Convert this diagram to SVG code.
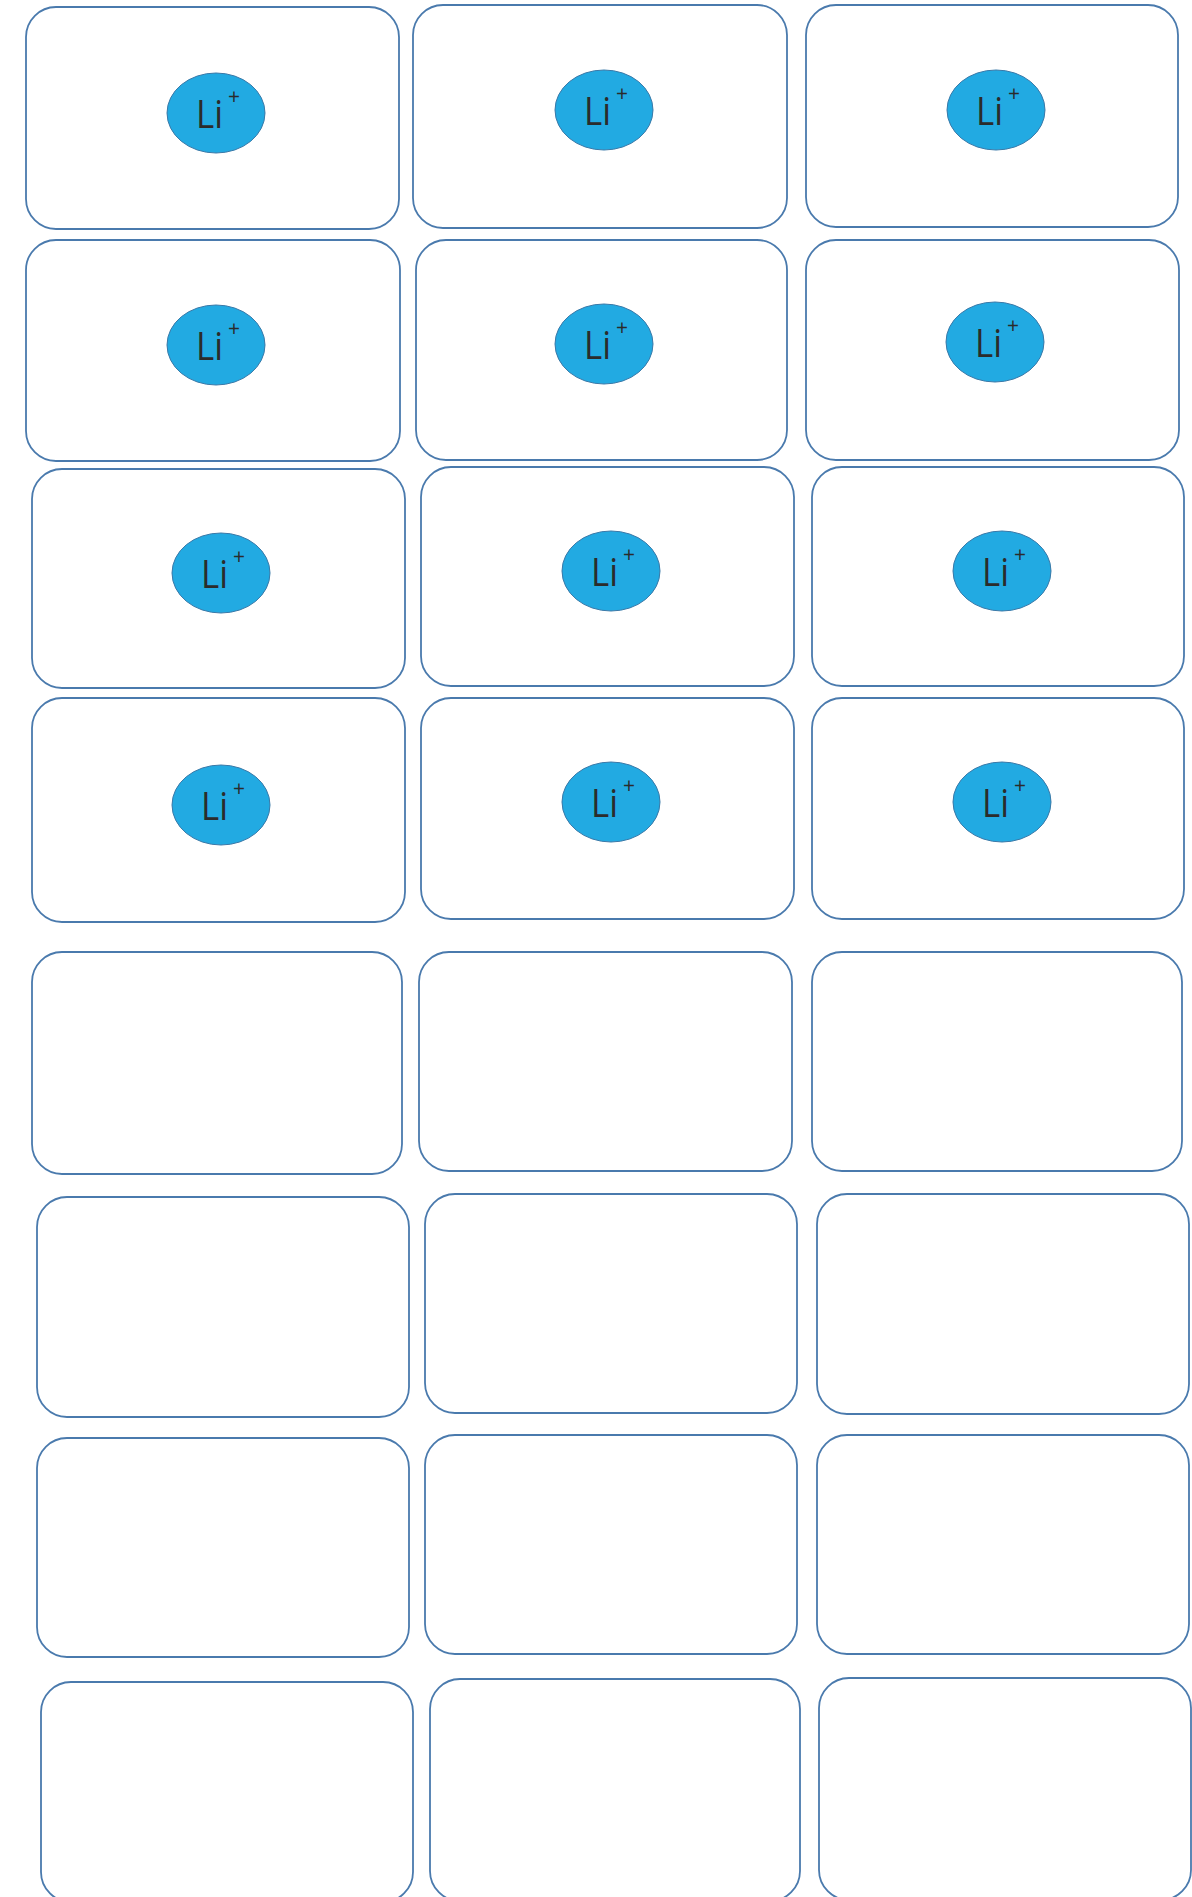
<svg xmlns="http://www.w3.org/2000/svg" width="1192" height="1897" viewBox="0 0 1192 1897">
<style>
.box{fill:#ffffff;stroke:#4a7aad;stroke-width:1.8}
.ion{fill:#22aae2;stroke:#3a79a8;stroke-width:1}
.li{font-family:"Open Sans","Liberation Sans",sans-serif;font-size:38px;fill:#2b2b2b}
.pl{font-family:"Open Sans","Liberation Sans",sans-serif;font-size:21px;fill:#2b2b2b}
</style>
<defs>
<g id="liion">
<ellipse class="ion" cx="0" cy="0" rx="49" ry="40"/>
<text class="li" x="-20" y="15" textLength="27" lengthAdjust="spacingAndGlyphs">Li</text>
<text class="pl" x="18" y="-9" text-anchor="middle">+</text>
</g>
</defs>
<rect width="1192" height="1897" fill="#ffffff"/>
<g id="r1c1"><rect class="box" x="26" y="7" width="373" height="222" rx="30"/><use href="#liion" x="216" y="113"/></g>
<g id="r1c2"><rect class="box" x="413" y="5" width="374" height="223" rx="30"/><use href="#liion" x="604" y="110"/></g>
<g id="r1c3"><rect class="box" x="806" y="5" width="372" height="222" rx="30"/><use href="#liion" x="996" y="110"/></g>
<g id="r2c1"><rect class="box" x="26" y="240" width="374" height="221" rx="30"/><use href="#liion" x="216" y="345"/></g>
<g id="r2c2"><rect class="box" x="416" y="240" width="371" height="220" rx="30"/><use href="#liion" x="604" y="344"/></g>
<g id="r2c3"><rect class="box" x="806" y="240" width="373" height="220" rx="30"/><use href="#liion" x="995" y="342"/></g>
<g id="r3c1"><rect class="box" x="32" y="469" width="373" height="219" rx="30"/><use href="#liion" x="221" y="573"/></g>
<g id="r3c2"><rect class="box" x="421" y="467" width="373" height="219" rx="30"/><use href="#liion" x="611" y="571"/></g>
<g id="r3c3"><rect class="box" x="812" y="467" width="372" height="219" rx="30"/><use href="#liion" x="1002" y="571"/></g>
<g id="r4c1"><rect class="box" x="32" y="698" width="373" height="224" rx="30"/><use href="#liion" x="221" y="805"/></g>
<g id="r4c2"><rect class="box" x="421" y="698" width="373" height="221" rx="30"/><use href="#liion" x="611" y="802"/></g>
<g id="r4c3"><rect class="box" x="812" y="698" width="372" height="221" rx="30"/><use href="#liion" x="1002" y="802"/></g>
<g id="r5c1"><rect class="box" x="32" y="952" width="370" height="222" rx="30"/></g>
<g id="r5c2"><rect class="box" x="419" y="952" width="373" height="219" rx="30"/></g>
<g id="r5c3"><rect class="box" x="812" y="952" width="370" height="219" rx="30"/></g>
<g id="r6c1"><rect class="box" x="37" y="1197" width="372" height="220" rx="30"/></g>
<g id="r6c2"><rect class="box" x="425" y="1194" width="372" height="219" rx="30"/></g>
<g id="r6c3"><rect class="box" x="817" y="1194" width="372" height="220" rx="30"/></g>
<g id="r7c1"><rect class="box" x="37" y="1438" width="372" height="219" rx="30"/></g>
<g id="r7c2"><rect class="box" x="425" y="1435" width="372" height="219" rx="30"/></g>
<g id="r7c3"><rect class="box" x="817" y="1435" width="372" height="219" rx="30"/></g>
<g id="r8c1"><rect class="box" x="41" y="1682" width="372" height="220" rx="30"/></g>
<g id="r8c2"><rect class="box" x="430" y="1679" width="370" height="222" rx="30"/></g>
<g id="r8c3"><rect class="box" x="819" y="1678" width="372" height="222" rx="30"/></g>
<g id="connectors"></g>
</svg>
